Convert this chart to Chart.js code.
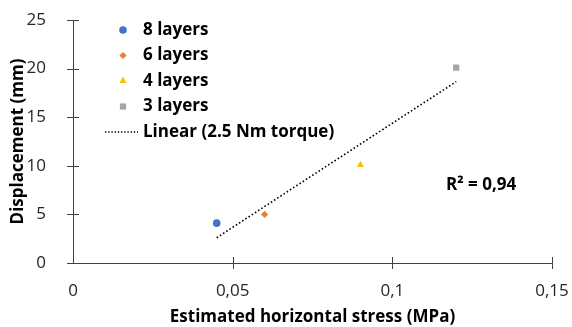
<!DOCTYPE html>
<html>
<head>
<meta charset="utf-8">
<script src="https://cdn.jsdelivr.net/npm/chart.js@4"></script>
<style>
  html, body { margin: 0; padding: 0; background: #fff; }
  #wrap { width: 572px; height: 327px; }
</style>
</head>
<body>
<div id="wrap"><canvas id="grafica"></canvas></div>
<script>
// values
const seriesNames = ['8 layers', '6 layers', '4 layers', '3 layers'];
const stressMPa = [0.045, 0.06, 0.09, 0.12];
const displacementMm = [4.1, 5.0, 10.1, 20.1];
const seriesColors = ['#4472C4', '#ED7D31', '#FFC000', '#A5A5A5'];
const seriesShapes = ['circle', 'rectRot', 'triangle', 'rect'];
const shapeSizes = [3.8, 3.6, 4.2, 4.4];
const trendName = 'Linear (2.5 Nm torque)';
const rSquaredText = 'R² = 0,94';
const xTicks = [0, 0.05, 0.1, 0.15];
const yTicks = [0, 5, 10, 15, 20, 25];

const FONT = 'Open Sans';
const FSIZE = 17;

// least squares line through the points, like the Excel trendline
const fitLine = (xs, ys) => {
    const n = xs.length;
    const mx = xs.reduce((a, b) => a + b, 0) / n;
    const my = ys.reduce((a, b) => a + b, 0) / n;
    let sxy = 0, sxx = 0;
    for (let i = 0; i < n; i++) {
        sxy += (xs[i] - mx) * (ys[i] - my);
        sxx += (xs[i] - mx) * (xs[i] - mx);
    }
    const slope = sxy / sxx;
    return { slope: slope, icpt: my - slope * mx };
}
const fit = fitLine(stressMPa, displacementMm);
const xMin = Math.min(...stressMPa), xMax = Math.max(...stressMPa);

const datasets = seriesNames.map((name, i) => ({
    label: name,
    data: [{ x: stressMPa[i], y: displacementMm[i] }],
    pointStyle: seriesShapes[i],
    pointRadius: shapeSizes[i],
    pointHoverRadius: shapeSizes[i],
    backgroundColor: seriesColors[i],
    borderColor: seriesColors[i],
    borderWidth: 0,
    showLine: false
}));
datasets.push({
    label: trendName,
    data: [
        { x: xMin, y: fit.slope * xMin + fit.icpt },
        { x: xMax, y: fit.slope * xMax + fit.icpt }
    ],
    showLine: true,
    borderColor: '#000',
    borderWidth: 1.6,
    borderDash: [1.6, 2.2],
    pointRadius: 0,
    fill: false
});

const fmt = v => String(Number(v.toFixed(4))).replace('.', ',');

const noPad = s => {
    s.paddingLeft = 0; s.paddingRight = 0;
    s.paddingTop = 0; s.paddingBottom = 0;
}

// ticks crossing the axis lines, Excel style
const crossTicks = {
    id: 'crossTicks',
    afterDraw(chart) {
        const ctx = chart.ctx;
        const xs = chart.scales.x, ys = chart.scales.y;
        const area = chart.chartArea;
        ctx.save();
        ctx.strokeStyle = '#404040';
        ctx.lineWidth = 1;
        ctx.beginPath();
        yTicks.forEach(v => {
            const py = Math.round(ys.getPixelForValue(v)) + 0.5;
            ctx.moveTo(area.left - 6, py);
            ctx.lineTo(area.left + 6, py);
        });
        xTicks.forEach(v => {
            if (v === 0) return;
            const px = Math.round(xs.getPixelForValue(v)) + 0.5;
            ctx.moveTo(px, area.bottom - 6);
            ctx.lineTo(px, area.bottom + 6);
        });
        ctx.stroke();
        ctx.restore();
    }
};

// legend inside the plot + R² label
const innerLegend = {
    id: 'innerLegend',
    afterDraw(chart) {
        const ctx = chart.ctx;
        const left = 123, top = 30, rowH = 25.5;
        ctx.save();
        ctx.font = 'bold ' + FSIZE + 'px ' + FONT;
        ctx.textBaseline = 'middle';
        ctx.fillStyle = '#000';
        chart.data.datasets.forEach((ds, i) => {
            const y = top + i * rowH;
            if (ds.showLine) {
                ctx.strokeStyle = '#000';
                ctx.lineWidth = 1.4;
                ctx.setLineDash([1.4, 1.8]);
                ctx.beginPath();
                ctx.moveTo(105, y);
                ctx.lineTo(138, y);
                ctx.stroke();
                ctx.setLineDash([]);
            } else {
                ctx.fillStyle = ds.backgroundColor;
                Chart.helpers.drawPoint(ctx, {
                    pointStyle: ds.pointStyle,
                    radius: ds.pointRadius,
                    rotation: 0,
                    borderWidth: 0
                }, left, y);
                ctx.fillStyle = '#000';
            }
            ctx.fillText(ds.label, 143, y);
        });
        ctx.fillText(rSquaredText, 446, 185);
        ctx.restore();
    }
};

new Chart(document.getElementById('grafica'), {
    type: 'scatter',
    data: { datasets: datasets },
    options: {
        responsive: true,
        maintainAspectRatio: false,
        animation: false,
        layout: { padding: { top: 20, right: 20, left: 0, bottom: 0 } },
        plugins: {
            legend: { display: false },
            tooltip: { enabled: false }
        },
        scales: {
            x: {
                type: 'linear',
                min: 0,
                max: 0.15,
                afterBuildTicks: s => { s.ticks = xTicks.map(v => ({ value: v })); },
                afterFit: s => { s.height = 64; noPad(s); },
                grid: { display: false },
                border: { display: true, color: '#404040', width: 1 },
                ticks: {
                    padding: 10,
                    color: '#262626',
                    font: { family: FONT, size: FSIZE },
                    callback: v => fmt(v),
                    maxRotation: 0
                },
                title: {
                    display: true,
                    text: 'Estimated horizontal stress (MPa)',
                    color: '#000',
                    font: { family: FONT, size: FSIZE, weight: 'bold' },
                    padding: { top: 0, bottom: 0 }
                }
            },
            y: {
                min: 0,
                max: 25,
                afterBuildTicks: s => { s.ticks = yTicks.map(v => ({ value: v })); },
                afterFit: s => { s.width = 73; noPad(s); },
                grid: { display: false },
                border: { display: true, color: '#404040', width: 1 },
                ticks: {
                    padding: 19,
                    color: '#262626',
                    font: { family: FONT, size: FSIZE },
                    callback: v => fmt(v)
                },
                title: {
                    display: true,
                    text: 'Displacement (mm)',
                    color: '#000',
                    font: { family: FONT, size: FSIZE, weight: 'bold' },
                    padding: { top: 8, bottom: 0 }
                }
            }
        }
    },
    plugins: [crossTicks, innerLegend]
});
</script>
</body>
</html>
